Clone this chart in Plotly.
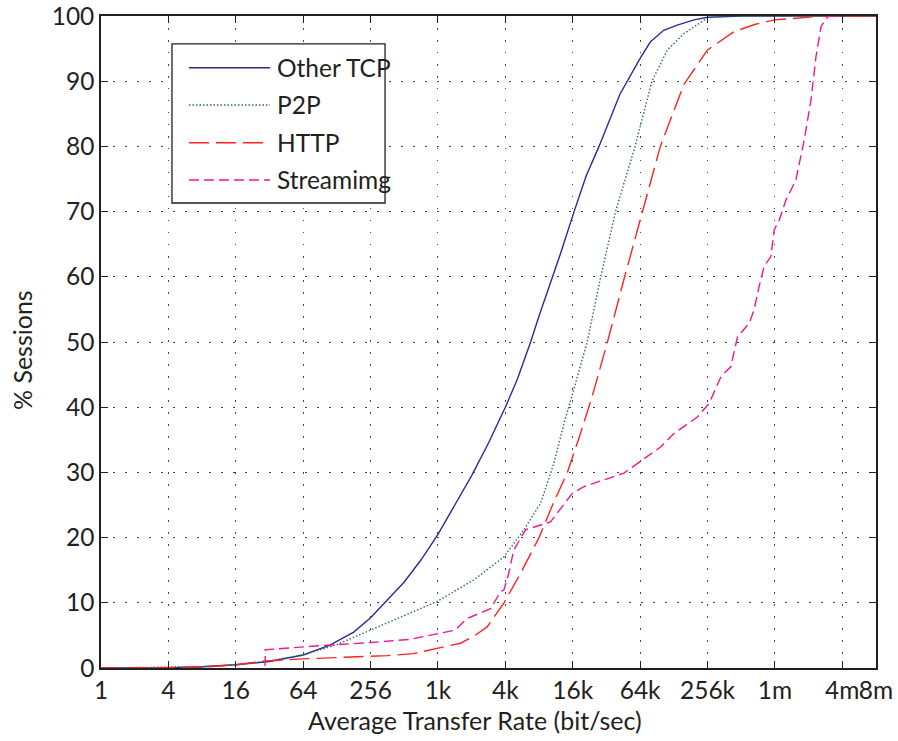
import plotly.graph_objects as go

# ---------------- data ----------------
tick_vals = [1, 4, 16, 64, 256, 1024, 4096, 16384, 65536, 262144, 1048576, 4194304, 8388608]
tick_text = ["1", "4", "16", "64", "256", "1k", "4k", "16k", "64k", "256k", "1m", "4m", "8m"]
y_ticks = [0, 10, 20, 30, 40, 50, 60, 70, 80, 90, 100]

other_tcp_x = [1, 4, 8, 16, 32, 64, 111, 181, 256, 362, 512, 724, 1024, 1448, 2048, 2896,
               4096, 5221, 6889, 8192, 12766, 16844, 21619, 28133, 43238, 65536, 80684,
               106464, 140483, 198666, 262144, 524288, 8388608]
other_tcp_y = [0, 0.05, 0.2, 0.5, 1.0, 2.0, 3.5, 5.5, 7.7, 10.4, 13.2, 16.6, 20.5, 25, 29.5, 34.5,
               40, 44.2, 50, 54, 63.6, 70, 75.5, 80, 88, 93.5, 96,
               97.8, 98.6, 99.4, 99.8, 100, 100]

p2p_x = [1, 4, 8, 16, 32, 64, 79, 128, 239, 512, 1003, 2135, 3957, 5997, 8481, 11113,
         13682, 16271, 22073, 29126, 39512, 46341, 59064, 83532, 114897, 161363,
         262144, 370727, 8388608]
p2p_y = [0, 0.1, 0.2, 0.5, 1.1, 2.0, 2.5, 3.6, 5.6, 8, 10.2, 13.5, 17, 21.2, 25.3, 31.4,
         37.5, 42, 50, 60, 70, 74, 80, 90, 94.8, 97.3,
         99.7, 100, 100]

http_x = [1, 8, 16, 30, 64, 158, 362, 617, 1010, 1629, 2195, 2817, 3984, 5595, 8192,
          10809, 14665, 18820, 24491, 33457, 47645, 68793, 99333, 161363, 262144,
          453247, 691798, 1034200, 2905000, 8388608]
http_y = [0, 0.1, 0.5, 1.1, 1.4, 1.7, 1.9, 2.2, 3.0, 3.8, 5.0, 6.3, 10, 14.5, 20,
          25, 30, 35.5, 41.7, 50, 60, 70, 80, 89.5, 94.8,
          97.6, 98.7, 99.4, 100, 100]

stream_x = [29.2, 29.4, 104.7, 256, 580, 1235, 1448, 1872, 3019, 3717, 3984, 4390, 4871,
            6208, 10369, 16271, 20595, 46990, 76330, 100027, 131988, 212927, 271397,
            345900, 422919, 485807, 619184, 682260, 757021, 839968, 964900, 1034200,
            1147478, 1318060, 1611550, 1917000, 2201380, 2442560, 2710360, 3113220, 3406830]
stream_y = [0.3, 2.8, 3.5, 3.9, 4.4, 5.6, 5.8, 7.6, 9.1, 11.7, 12, 14.5, 18.1,
            21.2, 22.4, 26.8, 27.8, 29.9, 32.4, 33.9, 36, 38.5, 40.6,
            44.7, 46.2, 50.8, 52.9, 54.9, 58.5, 61.6, 63.1, 67.2,
            68.7, 71.8, 74.8, 81, 87.1, 93.8, 98.4, 99.9, 100]

series_names = ["Other TCP", "P2P", "HTTP", "Streamimg"]
series_colors = ["#2b2b96", "#2f6e4f", "#ff2222", "#f2168f"]
series_dash = ["solid", "1.5px,2px", "20px,7px", "10px,5px"]

FONT = "Lato"
TXT = "#231f20"

fig = go.Figure()
for name, xs, ys, col, dsh in zip(series_names,
                                  [other_tcp_x, p2p_x, http_x, stream_x],
                                  [other_tcp_y, p2p_y, http_y, stream_y],
                                  series_colors, series_dash):
    fig.add_trace(go.Scatter(x=xs, y=ys, mode="lines", name=name, showlegend=False,
                             line=dict(color=col, width=1.4, dash=dsh)))

# custom legend (box, sample lines, labels) in axis-domain coords
shapes = [dict(type="rect", xref="paper", yref="paper", x0=0.0916, x1=0.3665, y0=0.7132, y1=0.9571,
               line=dict(color="#231f20", width=1.3), fillcolor="white", layer="above")]
annotations = []
row_y = [0.9207, 0.8635, 0.8057, 0.7485]
for name, col, dsh, ry in zip(series_names, series_colors, series_dash, row_y):
    shapes.append(dict(type="line", xref="paper", yref="paper", x0=0.1135, x1=0.2181, y0=ry, y1=ry,
                       line=dict(color=col, width=1.4, dash=dsh), layer="above"))
    annotations.append(dict(xref="paper", yref="paper", x=0.2245, y=ry, text=name, showarrow=False,
                            xanchor="left", yanchor="middle", font=dict(family=FONT, size=24.5, color=TXT)))

annotations.append(dict(xref="paper", yref="paper", x=0.4826, y=-0.0798, text="Average Transfer Rate (bit/sec)",
                        showarrow=False, xanchor="center", yanchor="middle",
                        font=dict(family=FONT, size=25, color=TXT)))
annotations.append(dict(xref="paper", yref="paper", x=-0.1019, y=0.4877, text="% Sessions",
                        showarrow=False, xanchor="center", yanchor="middle", textangle=-90,
                        font=dict(family=FONT, size=25, color=TXT)))

axis_common = dict(showline=True, linecolor="#231f20", linewidth=1.5, mirror="ticks",
                   ticks="inside", ticklen=7, tickwidth=1.3, tickcolor="#231f20",
                   showgrid=True, gridcolor="#444444", gridwidth=1, griddash="1.5px,10.5px",
                   zeroline=False, automargin=False, ticklabeloverflow="allow",
                   tickfont=dict(family=FONT, size=24.5, color=TXT))

fig.update_layout(
    width=898, height=741,
    margin=dict(l=101, r=22, t=16, b=73),
    paper_bgcolor="white", plot_bgcolor="white",
    shapes=shapes, annotations=annotations,
    xaxis=dict(type="log", range=[0, 6.923689], tickmode="array", tickvals=tick_vals,
               ticktext=tick_text, tickangle=0, **axis_common),
    yaxis=dict(range=[0, 100], tickmode="array", tickvals=y_ticks, **axis_common),
)

fig.write_html("out.html", config={"displayModeBar": False},
               post_script="document.body.style.margin='0px';document.body.style.overflow='hidden';")
